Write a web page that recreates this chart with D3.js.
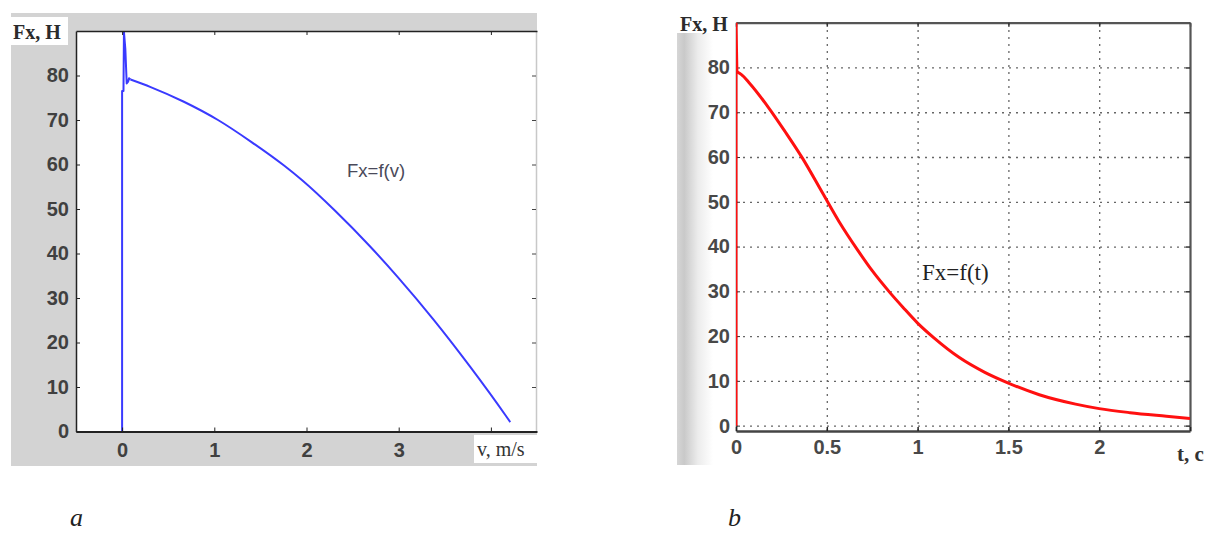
<!DOCTYPE html>
<html>
<head>
<meta charset="utf-8">
<script src="https://cdn.jsdelivr.net/npm/d3@7"></script>
<style>
  body { margin: 0; background: #fff; }
  .tick text { font-family: "Liberation Sans", Arial, sans-serif; }
</style>
</head>
<body>
<div id="chart"></div>
<script>
// панель a: Fx = f(v)
const speedV = [0, 0, 0.015, 0.02, 0.035, 0.05, 0.065, 0.075, 0.09, 0.31, 0.67, 1.04, 1.4, 1.76, 1.95, 2.31, 2.68, 2.99, 3.38, 3.77, 4.16, 4.21];
const forceV = [0, 76.5, 76.5, 89.8, 86, 78.2, 78.6, 79.4, 79.1, 77.4, 74.1, 70.0, 65.1, 59.7, 56.5, 49.6, 41.8, 34.7, 25.1, 14.7, 3.6, 2.1];
const spikeEndV = 8; // до этой точки — ломаная, дальше — гладкая кривая
const ticksVx = [0, 1, 2, 3, 4];
const labelsVx = [0, 1, 2, 3];
const ticksF = [0, 10, 20, 30, 40, 50, 60, 70, 80];

// панель b: Fx = f(t)
const timeT = [0, 0, 0.005, 0.03, 0.072, 0.18, 0.27, 0.365, 0.476, 0.567, 0.67, 0.75, 0.85, 0.92, 1.0, 1.09, 1.23, 1.37, 1.5, 1.67, 1.87, 2.0, 2.17, 2.37, 2.5];
const forceT = [0, 90, 79, 78.4, 76.6, 71.0, 65.7, 59.8, 52.0, 45.6, 39.2, 34.6, 29.6, 26.4, 22.9, 19.6, 15.2, 11.9, 9.5, 6.9, 4.8, 3.8, 2.9, 2.1, 1.6];
const spikeEndT = 2;
const ticksTx = [0, 0.5, 1, 1.5, 2, 2.5];
const labelsTx = [0, 0.5, 1, 1.5, 2];

const W = 1208, H = 535;
const sans = '"Liberation Sans", Arial, sans-serif';
const serif = '"Liberation Serif", "Times New Roman", serif';

const svg = d3.select("#chart").append("svg")
    .attr("width", W)
    .attr("height", H);

const defs = svg.append("defs");

// рисует серию: начальный участок ломаной, остальное — monotoneX
function drawSeries(g, xs, ys, split, x, y, clip, color, width) {
    const pts = xs.map((v, i) => [x(v), y(ys[i])]);
    const straight = d3.line();
    const smooth = d3.line().curve(d3.curveMonotoneX);
    [straight(pts.slice(0, split + 1)), smooth(pts.slice(split))].forEach(d => {
        g.append("path")
            .attr("clip-path", `url(#${clip})`)
            .attr("d", d)
            .attr("fill", "none")
            .attr("stroke", color)
            .attr("stroke-width", width)
            .attr("stroke-linejoin", "round");
    });
}

// ---------- a ----------
const xA = d3.scaleLinear().domain([-0.5, 4.5]).range([76, 537]);
const yA = d3.scaleLinear().domain([0, 90]).range([431.5, 31]);

const gA = svg.append("g");

gA.append("rect")
    .attr("x", 11).attr("y", 13)
    .attr("width", 526).attr("height", 453)
    .attr("fill", "#d3d3d3");

gA.append("rect")
    .attr("x", xA.range()[0]).attr("y", yA.range()[1])
    .attr("width", xA.range()[1] - xA.range()[0])
    .attr("height", yA.range()[0] - yA.range()[1])
    .attr("fill", "#fff");

defs.append("clipPath").attr("id", "clipA").append("rect")
    .attr("x", xA.range()[0]).attr("y", yA.range()[1])
    .attr("width", xA.range()[1] - xA.range()[0])
    .attr("height", yA.range()[0] - yA.range()[1]);

drawSeries(gA, speedV, forceV, spikeEndV, xA, yA, "clipA", "#3a3aff", 2);

// правая ось (светлая)
gA.append("g")
    .attr("transform", `translate(${xA.range()[1] - 1},0)`)
    .call(d3.axisRight(yA).tickValues(ticksF).tickSizeInner(-4).tickSizeOuter(0).tickFormat(""))
    .call(g => g.select(".domain").attr("stroke", "#c8c8c8").attr("stroke-width", 1.5))
    .call(g => g.selectAll(".tick line").attr("stroke", "#444"));

// верхняя ось
gA.append("g")
    .attr("transform", `translate(0,${yA.range()[1]})`)
    .call(d3.axisTop(xA).tickValues(ticksVx).tickSizeInner(-4).tickSizeOuter(0).tickFormat(""))
    .call(g => g.select(".domain").attr("stroke", "#222").attr("stroke-width", 1.5))
    .call(g => g.selectAll(".tick line").attr("stroke", "#222"));

// левая ось
gA.append("g")
    .attr("transform", `translate(${xA.range()[0]},0)`)
    .call(d3.axisLeft(yA).tickValues(ticksF).tickSizeInner(-4).tickSizeOuter(0).tickPadding(7))
    .call(g => g.select(".domain").attr("stroke", "#222").attr("stroke-width", 1.5))
    .call(g => g.selectAll(".tick line").attr("stroke", "#222"))
    .call(g => g.selectAll(".tick text").attr("font-size", 20).attr("font-weight", "bold").attr("fill", "#404040"));

// нижняя ось
gA.append("g")
    .attr("transform", `translate(0,${yA.range()[0]})`)
    .call(d3.axisBottom(xA).tickValues(ticksVx).tickSizeInner(-4).tickSizeOuter(0).tickPadding(11)
        .tickFormat(d => labelsVx.includes(d) ? d : ""))
    .call(g => g.select(".domain").attr("stroke", "#222").attr("stroke-width", 2.2))
    .call(g => g.selectAll(".tick line").attr("stroke", "#222"))
    .call(g => g.selectAll(".tick text").attr("font-size", 20).attr("font-weight", "bold").attr("fill", "#404040"));

// подписи осей
gA.append("rect")
    .attr("x", 11).attr("y", 17).attr("width", 57).attr("height", 28)
    .attr("fill", "#fff");
gA.append("text")
    .attr("x", 13).attr("y", 39)
    .attr("font-family", serif).attr("font-weight", "bold").attr("font-size", 20)
    .attr("fill", "#2b2b2b")
    .text("Fx, H");

gA.append("rect")
    .attr("x", 474).attr("y", 435).attr("width", 63).attr("height", 28)
    .attr("fill", "#fff");
gA.append("text")
    .attr("x", 477).attr("y", 456)
    .attr("font-family", serif).attr("font-size", 20)
    .attr("fill", "#333")
    .text("v, m/s");

gA.append("text")
    .attr("x", xA(2.44)).attr("y", yA(57.2))
    .attr("font-family", sans).attr("font-size", 18.5)
    .attr("fill", "#4a4a5a")
    .text("Fx=f(v)");

svg.append("text")
    .attr("x", 70).attr("y", 526)
    .attr("font-family", serif).attr("font-style", "italic").attr("font-size", 26)
    .attr("fill", "#222")
    .text("a");

// ---------- b ----------
const xB = d3.scaleLinear().domain([0, 2.5]).range([736, 1190]);
const yB = d3.scaleLinear().domain([-1.2, 90]).range([431, 22.7]);

const gB = svg.append("g");

const grad = defs.append("linearGradient").attr("id", "stripB")
    .attr("x1", 0).attr("x2", 1).attr("y1", 0).attr("y2", 0);
grad.append("stop").attr("offset", 0).attr("stop-color", "#d6d6d6");
grad.append("stop").attr("offset", 0.12).attr("stop-color", "#c9c9c9");
grad.append("stop").attr("offset", 0.35).attr("stop-color", "#ececec");
grad.append("stop").attr("offset", 0.6).attr("stop-color", "#fff");

gB.append("rect")
    .attr("x", 677).attr("y", 33)
    .attr("width", 60).attr("height", 432)
    .attr("fill", "url(#stripB)");

// сетка
gB.append("g")
    .attr("transform", `translate(${xB.range()[0]},0)`)
    .call(d3.axisLeft(yB).tickValues(ticksF).tickSize(-(xB.range()[1] - xB.range()[0])).tickFormat(""))
    .call(g => g.select(".domain").remove())
    .call(g => g.selectAll(".tick line").attr("stroke", "#666").attr("stroke-width", 1.3).attr("stroke-dasharray", "2,5"));

gB.append("g")
    .attr("transform", `translate(0,${yB.range()[0]})`)
    .call(d3.axisBottom(xB).tickValues(ticksTx.filter(d => d > 0 && d < 2.5)).tickSize(-(yB.range()[0] - yB.range()[1])).tickFormat(""))
    .call(g => g.select(".domain").remove())
    .call(g => g.selectAll(".tick line").attr("stroke", "#666").attr("stroke-width", 1.3).attr("stroke-dasharray", "2,5"));

defs.append("clipPath").attr("id", "clipB").append("rect")
    .attr("x", xB.range()[0]).attr("y", yB.range()[1])
    .attr("width", xB.range()[1] - xB.range()[0])
    .attr("height", yB.range()[0] - yB.range()[1]);

// верхняя и правая рамка
gB.append("g")
    .attr("transform", `translate(0,${yB.range()[1]})`)
    .call(d3.axisTop(xB).tickValues(ticksTx).tickSizeInner(-4).tickSizeOuter(0).tickFormat(""))
    .call(g => g.select(".domain").attr("stroke", "#555").attr("stroke-width", 2.2))
    .call(g => g.selectAll(".tick line").attr("stroke", "#333").attr("stroke-width", 1.5));

gB.append("g")
    .attr("transform", `translate(${xB.range()[1]},0)`)
    .call(d3.axisRight(yB).tickValues(ticksF).tickSizeInner(-4).tickSizeOuter(0).tickFormat(""))
    .call(g => g.select(".domain").attr("stroke", "#555").attr("stroke-width", 2.2))
    .call(g => g.selectAll(".tick line").attr("stroke", "#333").attr("stroke-width", 1.5));

gB.append("g")
    .attr("transform", `translate(${xB.range()[0]},0)`)
    .call(d3.axisLeft(yB).tickValues(ticksF).tickSizeInner(-4).tickSizeOuter(0).tickPadding(6))
    .call(g => g.select(".domain").attr("stroke", "#555").attr("stroke-width", 1.5))
    .call(g => g.selectAll(".tick line").attr("stroke", "#333"))
    .call(g => g.selectAll(".tick text").attr("font-size", 20).attr("font-weight", "bold").attr("fill", "#484848"));

gB.append("g")
    .attr("transform", `translate(0,${yB.range()[0]})`)
    .call(d3.axisBottom(xB).tickValues(ticksTx).tickSizeInner(-4).tickSizeOuter(0).tickPadding(9)
        .tickFormat(d => labelsTx.includes(d) ? d : ""))
    .call(g => g.select(".domain").attr("stroke", "#444").attr("stroke-width", 2.6))
    .call(g => g.selectAll(".tick line").attr("stroke", "#222").attr("stroke-width", 1.5))
    .call(g => g.selectAll(".tick text").attr("font-size", 20).attr("font-weight", "bold").attr("fill", "#484848"));

drawSeries(gB, timeT, forceT, spikeEndT, xB, yB, "clipB", "#ff1010", 3);

gB.append("text")
    .attr("x", 680).attr("y", 31)
    .attr("font-family", serif).attr("font-weight", "bold").attr("font-size", 20)
    .attr("fill", "#2b2b2b")
    .text("Fx, H");

gB.append("text")
    .attr("x", 1177).attr("y", 461)
    .attr("font-family", serif).attr("font-weight", "bold").attr("font-size", 21)
    .attr("fill", "#333")
    .text("t, c");

gB.append("text")
    .attr("x", xB(1.024)).attr("y", yB(32.5))
    .attr("font-family", serif).attr("font-size", 23)
    .attr("fill", "#222")
    .text("Fx=f(t)");

svg.append("text")
    .attr("x", 728).attr("y", 526)
    .attr("font-family", serif).attr("font-style", "italic").attr("font-size", 26)
    .attr("fill", "#222")
    .text("b");
</script>
</body>
</html>
